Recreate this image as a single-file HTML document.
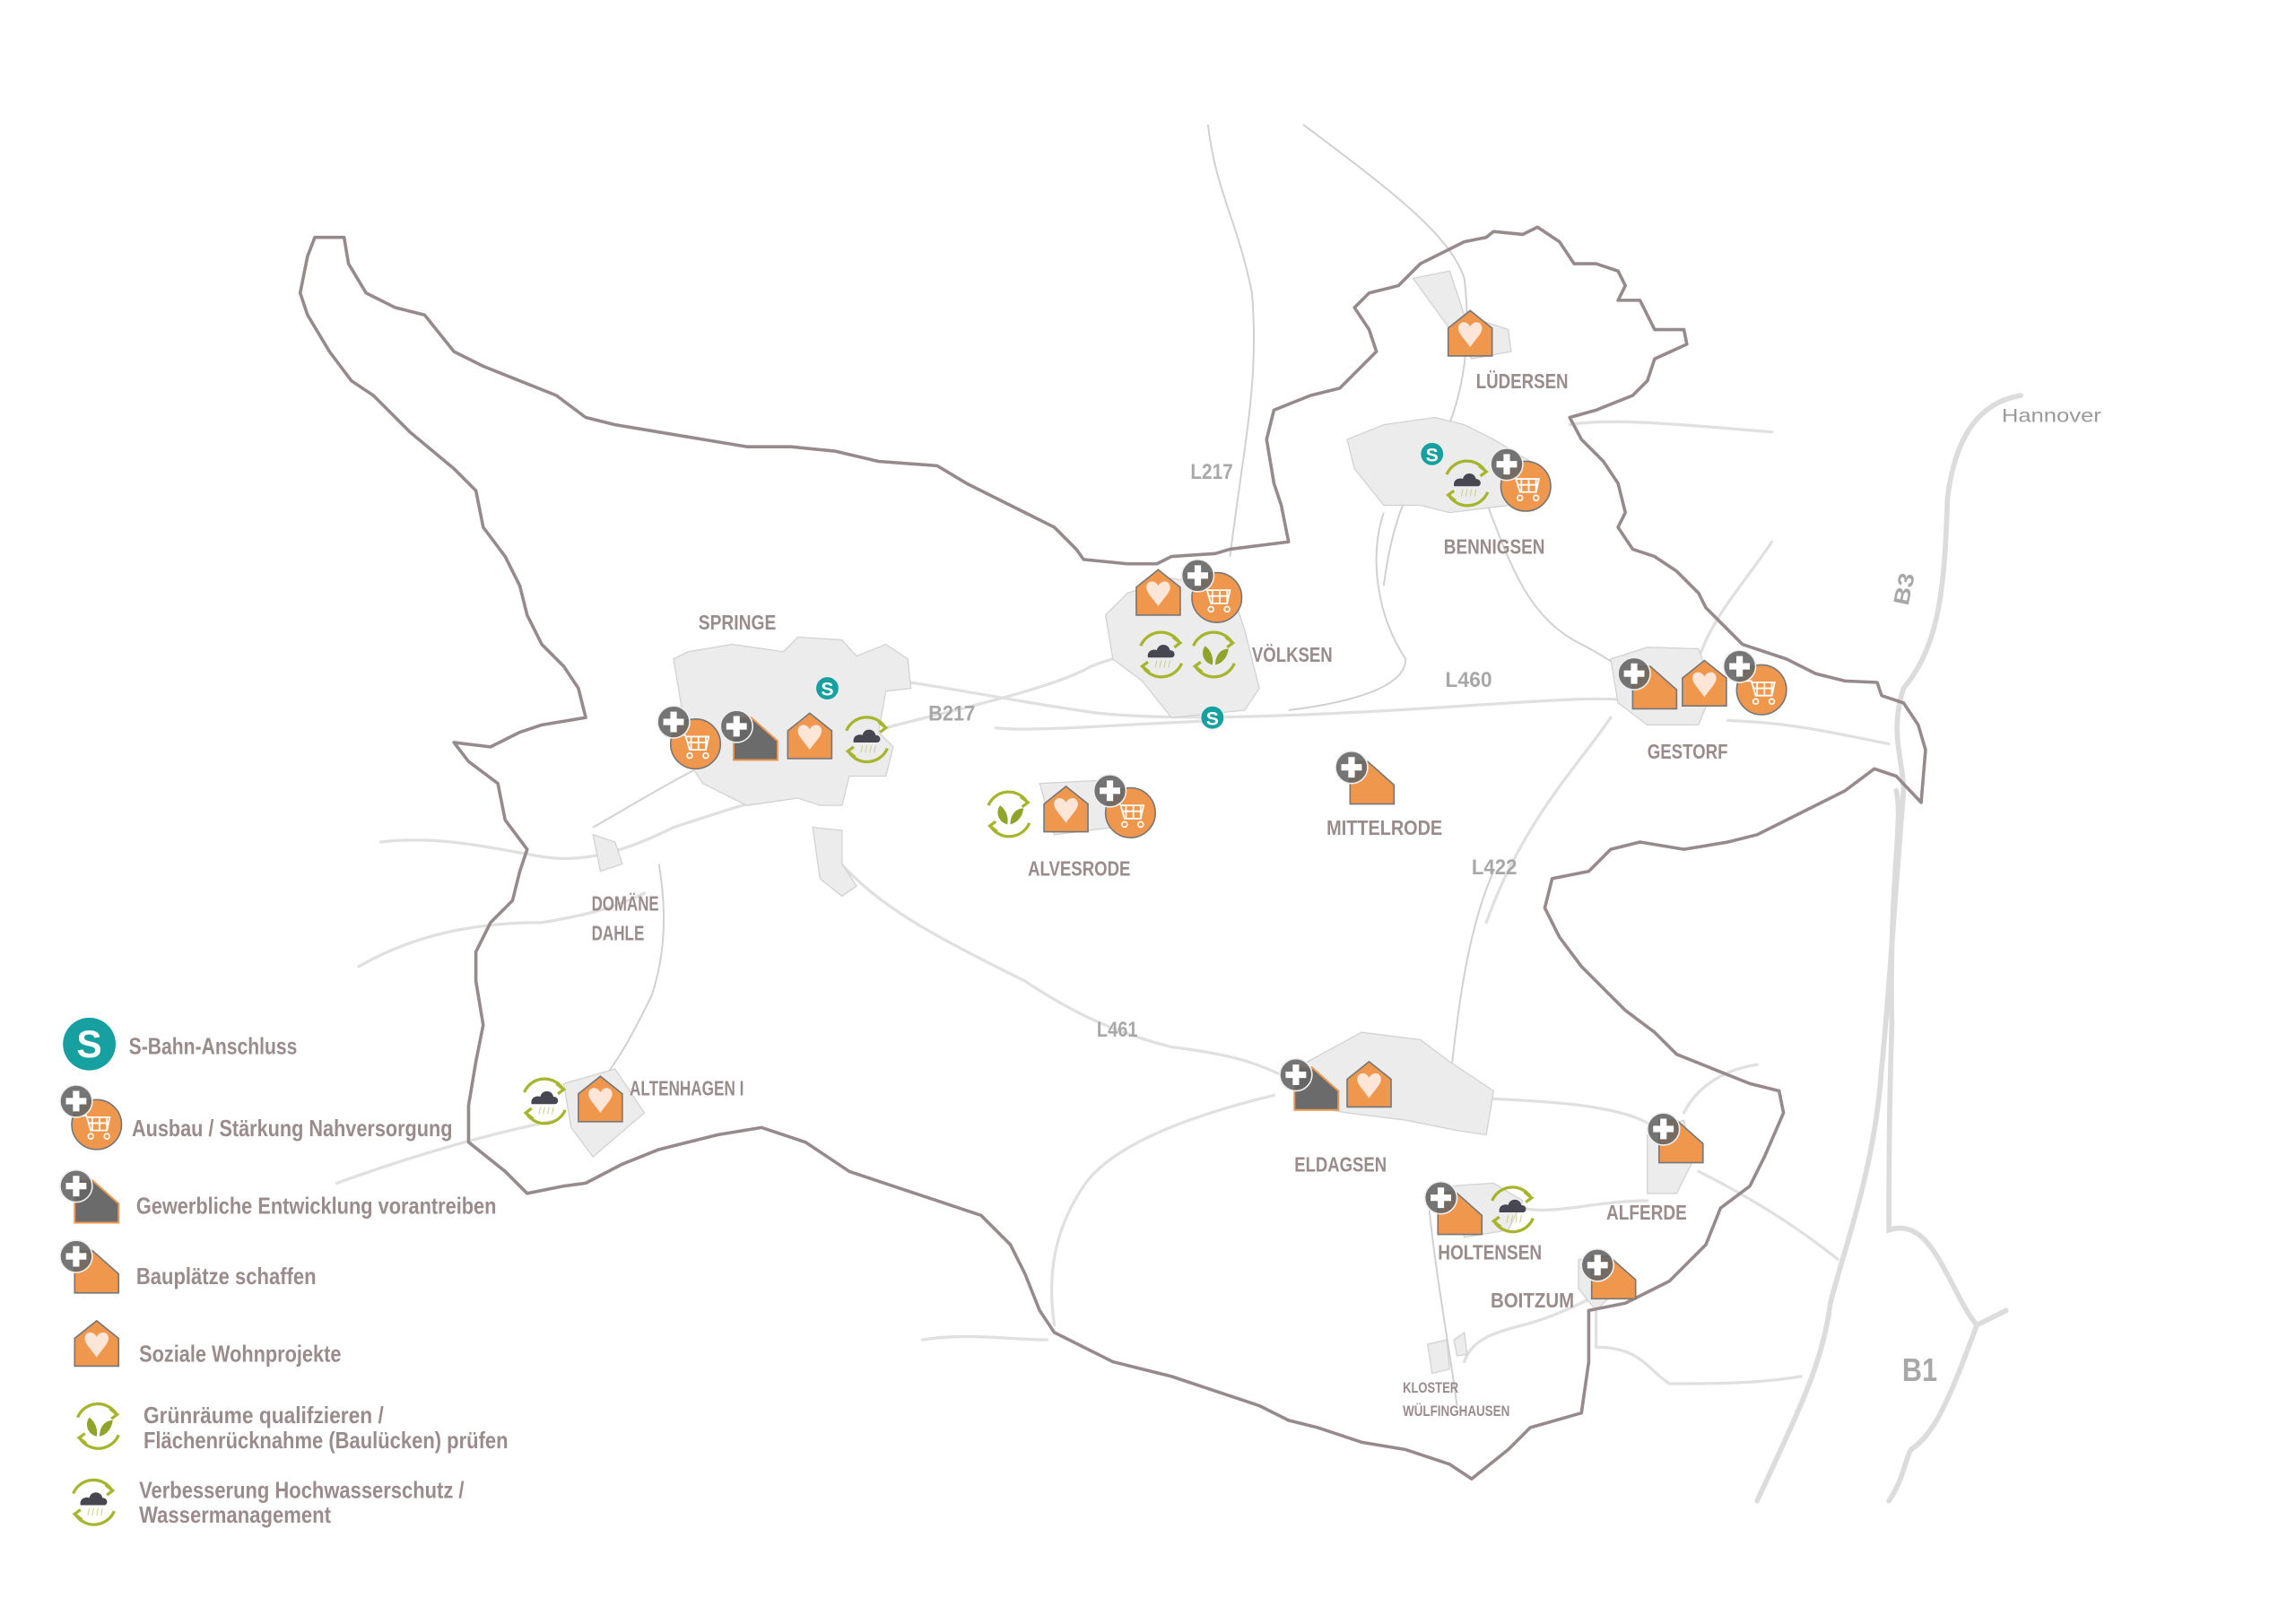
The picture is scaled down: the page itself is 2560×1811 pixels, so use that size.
<!DOCTYPE html>
<html><head><meta charset="utf-8"><style>
html,body{margin:0;padding:0;background:#fff}
svg{display:block}
.lbl{font-family:"Liberation Sans",sans-serif;font-weight:bold;fill:#9b8c8c;font-size:14px}
.leg{font-family:"Liberation Sans",sans-serif;font-weight:bold;fill:#9b8c8c;font-size:16px}
.rd{font-family:"Liberation Sans",sans-serif;font-weight:bold;fill:#a8a8a8;font-size:15px}
</style></head><body>
<svg width="2560" height="1811" viewBox="0 0 1568 1109" xmlns="http://www.w3.org/2000/svg">
<defs>
<g id="heart"><path d="M-15,15 V-4 L0,-16 L15,-4 V15 Z" fill="#F0974E" stroke="#777" stroke-width="1"/><path d="M0,9 C-4,3 -9,-1 -8,-5 C-7,-9 -2,-9 0,-5 C2,-9 7,-9 8,-5 C9,-1 4,3 0,9 Z" fill="#FDE6D8"/></g>
<g id="bau"><path d="M-15,15 V-14 L-3,-14 L15,2 V15 Z" fill="#F0974E" stroke="#777" stroke-width="1"/></g>
<g id="gew"><path d="M-15,15 V-14 L-3,-14 L15,2 V15 Z" fill="#6b6b6b" stroke="#F0974E" stroke-width="1.2"/></g>
<g id="plus"><circle r="11" fill="#666" fill-opacity="0.9" stroke="#eee" stroke-width="1"/><path d="M-2.2,-7 h4.4 v4.8 h4.8 v4.4 h-4.8 v4.8 h-4.4 v-4.8 h-4.8 v-4.4 h4.8 Z" fill="#fff"/></g>
<g id="cart"><circle r="17" fill="#F0974E" stroke="#777" stroke-width="1"/><path d="M-10,-6 h3 l3,10 h11 l2,-9 h-16 M-5,-1 h13 M-3,4 v-9 M2,4 v-9 M7,4 v-9" fill="none" stroke="#fff" stroke-width="1.1"/><circle cx="-4" cy="8" r="1.8" fill="none" stroke="#fff"/><circle cx="7" cy="8" r="1.8" fill="none" stroke="#fff"/></g>
<g id="cyc"><path d="M-14,-6 A15,15 0 0 1 12,-9" fill="none" stroke="#a6b52c" stroke-width="2"/><path d="M14,6 A15,15 0 0 1 -12,9" fill="none" stroke="#a6b52c" stroke-width="2"/><path d="M8,-12 L13,-8 L9,-5" fill="none" stroke="#a6b52c" stroke-width="2"/><path d="M-8,12 L-13,8 L-9,5" fill="none" stroke="#a6b52c" stroke-width="2"/></g>
<g id="flood"><use href="#cyc"/><path d="M-9,2 C-10,-3 -5,-4 -3,-3 C-2,-8 5,-8 6,-3 C10,-3 10,2 7,2 Z" fill="#474752"/><path d="M-3,4 l-1,5 M0,4 l-1,5 M3,4 l-1,5 M6,4 l-1,5" stroke="#c9cf80" stroke-width="0.6"/></g>
<g id="green"><use href="#cyc"/><path d="M-1,7 C-8,5 -9,-2 -6,-6 C-2,-3 0,2 -1,7 Z M1,7 C1,0 5,-4 10,-4 C9,3 5,6 1,7 Z" fill="#8fa42a"/></g>
<g id="sb"><circle r="8" fill="#16a0a0" stroke="#eee" stroke-width="0.8"/><text x="0" y="5" text-anchor="middle" font-family="Liberation Sans,sans-serif" font-weight="bold" font-size="13" fill="#fff">S</text></g>
</defs>

<g fill="none" stroke="#dcdcdc" stroke-width="3.5" stroke-linecap="round">
<path d="M1380,270 C1350,275 1335,300 1330,340 C1328,400 1325,440 1300,470 C1290,500 1300,520 1300,540 C1295,600 1290,680 1285,730 C1280,800 1260,850 1250,890 C1245,930 1230,960 1200,1025"/>
<path d="M1295,540 C1300,560 1290,600 1292,700 C1290,760 1290,800 1290,840 C1320,830 1330,880 1350,905 C1330,960 1320,980 1305,990 C1300,1000 1300,1010 1290,1025"/>
<path d="M1350,905 L1370,895"/>
</g>
<g fill="none" stroke="#e0e0e0" stroke-width="2" stroke-linecap="round">
<path d="M605,497 C650,485 720,470 745,455 C770,445 790,445 800,445"/>
<path d="M615,465 C650,470 700,480 750,487 C800,492 880,490 1000,482 C1060,478 1090,476 1110,478"/>
<path d="M680,497 C700,500 760,495 830,492"/>
<path d="M1180,492 C1220,493 1250,500 1290,508"/>
<path d="M1072,290 C1100,285 1150,290 1210,295"/>
<path d="M570,585 C600,620 640,640 700,670 C730,690 760,705 800,715 C840,720 860,725 890,742"/>
<path d="M870,748 C820,760 760,780 740,810 C720,840 715,870 720,905"/>
<path d="M1010,750 C1060,752 1110,755 1130,770"/>
<path d="M1125,820 C1090,820 1060,830 1040,825"/>
<path d="M1100,880 C1080,890 1060,900 1040,905 C1020,910 1005,915 1000,930"/>
<path d="M1090,882 L1090,920 C1120,920 1125,935 1140,945 C1170,945 1200,945 1230,940"/>
<path d="M1160,800 C1200,820 1230,840 1255,860"/>
<path d="M1150,760 C1160,740 1180,730 1200,727"/>
<path d="M630,915 C660,910 690,915 715,915"/>
<path d="M260,575 C300,570 340,580 370,585 C400,590 430,580 460,565 C490,555 520,545 550,540"/>
<path d="M245,660 C280,640 320,630 370,630 C400,625 420,620 440,610"/>
<path d="M230,808 C280,790 330,775 380,765"/>
<path d="M1015,630 C1040,560 1080,520 1100,490"/>
<path d="M1210,370 C1190,400 1170,420 1160,450"/>
</g>
<g fill="none" stroke="#d0d0d0" stroke-width="1.2">
<path d="M825,85 C830,130 845,150 855,200 C860,260 850,300 840,380"/>
<path d="M890,85 C950,130 990,160 1000,190 C1005,230 1000,270 985,300 C960,330 950,360 945,400"/>
<path d="M945,350 C935,380 940,420 960,450 C960,470 920,480 880,485"/>
<path d="M1010,330 C1030,380 1040,420 1080,440 C1100,450 1110,460 1120,460"/>
<path d="M405,565 C440,545 480,520 510,510 C550,490 580,470 615,465"/>
<path d="M450,590 C455,620 455,650 445,680 C430,710 420,730 400,750"/>
<path d="M1020,595 C1000,640 995,700 990,740"/>
<path d="M975,815 C980,870 990,920 995,960"/>
</g>

<g fill="#ececec" stroke="#d2d2d2" stroke-width="0.8">
<path d="M460,450 L470,445 L500,440 L535,445 L545,435 L575,437 L585,448 L605,440 L620,450 L622,470 L605,472 L600,500 L610,510 L605,530 L580,530 L575,550 L560,550 L545,545 L510,550 L500,545 L480,535 L470,520 L465,480 Z"/>
<path d="M555,565 L575,567 L575,590 L585,605 L575,612 L560,600 Z"/>
<path d="M405,570 L420,575 L425,590 L410,595 Z"/>
<path d="M770,405 L800,395 L840,400 L850,430 L860,470 L850,485 L800,490 L780,465 L760,450 L755,420 Z"/>
<path d="M920,300 L945,290 L980,285 L1000,290 L1020,300 L1045,315 L1030,345 L990,350 L970,345 L945,345 L925,320 Z"/>
<path d="M965,190 L990,185 L1000,215 L1030,225 L1032,240 L1005,245 Z"/>
<path d="M1100,450 L1125,442 L1160,443 L1170,470 L1160,495 L1125,495 L1105,480 Z"/>
<path d="M710,535 L750,533 L760,565 L720,570 Z"/>
<path d="M880,732 L930,705 L970,710 L990,725 L1020,745 L1015,775 L995,772 L960,765 L920,760 L890,755 Z"/>
<path d="M990,810 L1020,808 L1040,820 L1030,840 L1000,845 Z"/>
<path d="M1125,775 L1150,765 L1155,795 L1145,815 L1125,815 Z"/>
<path d="M1078,860 L1100,860 L1105,880 L1090,895 L1078,880 Z"/>
<path d="M385,740 L420,730 L440,760 L405,790 L390,770 Z"/>
<path d="M975,918 L988,915 L990,935 L978,938 Z M993,915 L1000,910 L1002,925 L995,926 Z"/>
</g>

<path fill="none" stroke="#978a8d" stroke-width="2.2" stroke-linejoin="round" d="M215,162 L235,162 L238,180 L250,200 L270,210 L290,215 L310,240 L330,250 L350,258 L380,270 L400,285 L420,290 L450,295 L480,300 L510,305 L540,305 L570,308 L600,315 L640,318 L660,330 L690,345 L720,360 L735,375 L740,382 L770,385 L790,385 L800,380 L830,378 L840,375 L880,370 L875,345 L870,330 L865,300 L870,280 L895,270 L915,265 L925,255 L940,240 L935,225 L925,210 L935,200 L955,195 L970,180 L990,170 L1000,165 L1015,162 L1020,158 L1040,160 L1050,155 L1065,165 L1075,180 L1090,180 L1105,185 L1110,195 L1105,205 L1120,205 L1130,225 L1150,225 L1152,235 L1130,245 L1125,260 L1115,270 L1090,280 L1072,285 L1080,300 L1095,315 L1105,330 L1110,350 L1105,360 L1115,375 L1130,380 L1145,390 L1160,405 L1165,415 L1175,425 L1190,440 L1220,450 L1240,460 L1260,465 L1282,466 L1285,475 L1300,480 L1310,495 L1315,512 L1312,548 L1295,530 L1280,525 L1260,540 L1240,550 L1220,560 L1200,570 L1180,575 L1150,580 L1120,575 L1100,580 L1085,595 L1060,600 L1055,620 L1065,640 L1080,660 L1095,675 L1110,690 L1130,705 L1145,720 L1170,730 L1195,740 L1215,745 L1218,760 L1205,790 L1195,810 L1175,825 L1165,850 L1140,875 L1110,890 L1085,895 L1085,930 L1080,965 L1045,975 L1030,990 L1005,1010 L990,1000 L960,990 L930,985 L900,975 L880,970 L860,960 L830,950 L800,940 L760,930 L720,910 L710,895 L700,870 L690,850 L670,830 L640,820 L610,810 L580,800 L550,780 L520,770 L490,775 L450,785 L425,795 L400,808 L385,810 L360,815 L345,800 L320,780 L320,755 L325,725 L330,700 L325,670 L325,650 L335,630 L350,615 L355,595 L360,580 L345,560 L340,535 L320,520 L310,507 L335,510 L355,500 L370,495 L400,490 L395,470 L385,455 L370,440 L360,420 L355,400 L345,380 L330,360 L325,335 L310,320 L280,295 L255,270 L240,260 L225,240 L210,215 L205,200 L210,175 Z"/>

<use href="#cart" x="475" y="508"/><use href="#plus" x="460" y="493"/>
<use href="#gew" x="516" y="504"/><use href="#plus" x="503" y="496"/>
<use href="#heart" x="553" y="503"/><use href="#flood" x="592" y="505"/><use href="#sb" x="565" y="470"/>
<use href="#heart" x="791" y="405"/><use href="#cart" x="831" y="408"/><use href="#plus" x="818" y="393"/>
<use href="#flood" x="793" y="447"/><use href="#green" x="829" y="447"/><use href="#sb" x="828" y="490"/>
<use href="#heart" x="1004" y="228"/>
<use href="#sb" x="978" y="310"/><use href="#flood" x="1002" y="330"/><use href="#cart" x="1042" y="332"/><use href="#plus" x="1029" y="317"/>
<use href="#bau" x="1130" y="469"/><use href="#plus" x="1116" y="460"/><use href="#heart" x="1164" y="467"/><use href="#cart" x="1203" y="471"/><use href="#plus" x="1188" y="455"/>
<use href="#green" x="689" y="556"/><use href="#heart" x="728" y="553"/><use href="#cart" x="772" y="555"/><use href="#plus" x="758" y="540"/>
<use href="#bau" x="937" y="534"/><use href="#plus" x="923" y="524"/>
<use href="#flood" x="372" y="752"/><use href="#heart" x="410" y="751"/>
<use href="#gew" x="899" y="743"/><use href="#plus" x="885" y="734"/><use href="#heart" x="935" y="741"/>
<use href="#bau" x="997" y="828"/><use href="#plus" x="984" y="818"/><use href="#flood" x="1033" y="826"/>
<use href="#bau" x="1148" y="779"/><use href="#plus" x="1136" y="771"/>
<use href="#bau" x="1102" y="872"/><use href="#plus" x="1091" y="864"/>

<g class="lbl">
<text x="477" y="430" textLength="53" lengthAdjust="spacingAndGlyphs">SPRINGE</text>
<text x="855" y="452" textLength="55" lengthAdjust="spacingAndGlyphs">VÖLKSEN</text>
<text x="1008" y="265" textLength="63" lengthAdjust="spacingAndGlyphs">LÜDERSEN</text>
<text x="986" y="378" textLength="69" lengthAdjust="spacingAndGlyphs">BENNIGSEN</text>
<text x="1125" y="518" textLength="55" lengthAdjust="spacingAndGlyphs">GESTORF</text>
<text x="702" y="598" textLength="70" lengthAdjust="spacingAndGlyphs">ALVESRODE</text>
<text x="906" y="570" textLength="79" lengthAdjust="spacingAndGlyphs">MITTELRODE</text>
<text x="404" y="622" textLength="46" lengthAdjust="spacingAndGlyphs">DOMÄNE</text>
<text x="404" y="642" textLength="36" lengthAdjust="spacingAndGlyphs">DAHLE</text>
<text x="430" y="748" textLength="78" lengthAdjust="spacingAndGlyphs">ALTENHAGEN I</text>
<text x="884" y="800" textLength="63" lengthAdjust="spacingAndGlyphs">ELDAGSEN</text>
<text x="982" y="860" textLength="71" lengthAdjust="spacingAndGlyphs">HOLTENSEN</text>
<text x="1097" y="833" textLength="55" lengthAdjust="spacingAndGlyphs">ALFERDE</text>
<text x="1018" y="893" textLength="57" lengthAdjust="spacingAndGlyphs">BOITZUM</text>
<text x="958" y="951" font-size="10" textLength="38" lengthAdjust="spacingAndGlyphs">KLOSTER</text>
<text x="958" y="967" font-size="10" textLength="73" lengthAdjust="spacingAndGlyphs">WÜLFINGHAUSEN</text>
</g>
<g class="rd">
<text x="813" y="327" textLength="29" lengthAdjust="spacingAndGlyphs">L217</text>
<text x="634" y="492" textLength="32" lengthAdjust="spacingAndGlyphs">B217</text>
<text x="987" y="469" textLength="32" lengthAdjust="spacingAndGlyphs">L460</text>
<text x="1005" y="597" textLength="31" lengthAdjust="spacingAndGlyphs">L422</text>
<text x="749" y="708" textLength="28" lengthAdjust="spacingAndGlyphs">L461</text>
<text transform="translate(1303,414) rotate(-78)" textLength="22" lengthAdjust="spacingAndGlyphs">B3</text>
<text x="1299" y="943" font-size="22" textLength="24" lengthAdjust="spacingAndGlyphs">B1</text>
</g>
<text x="1367" y="288" font-family="Liberation Sans,sans-serif" font-size="13" fill="#9a9a9a" textLength="68" lengthAdjust="spacingAndGlyphs">Hannover</text>

<circle cx="61" cy="713" r="18" fill="#16a0a0"/><text x="61" y="722" text-anchor="middle" font-family="Liberation Sans,sans-serif" font-weight="bold" font-size="26" fill="#fff">S</text>
<use href="#cart" x="66" y="768"/><use href="#plus" x="52" y="752"/>
<use href="#gew" x="66" y="820"/><use href="#plus" x="52" y="810"/>
<use href="#bau" x="66" y="868"/><use href="#plus" x="52" y="858"/>
<use href="#heart" x="66" y="918"/>
<use href="#green" x="67" y="974"/>
<use href="#flood" x="64" y="1026"/>
<g class="leg">
<text x="88" y="720" textLength="115" lengthAdjust="spacingAndGlyphs">S-Bahn-Anschluss</text>
<text x="90" y="776" textLength="219" lengthAdjust="spacingAndGlyphs">Ausbau / Stärkung Nahversorgung</text>
<text x="93" y="829" textLength="246" lengthAdjust="spacingAndGlyphs">Gewerbliche Entwicklung vorantreiben</text>
<text x="93" y="877" textLength="123" lengthAdjust="spacingAndGlyphs">Bauplätze schaffen</text>
<text x="95" y="930" textLength="138" lengthAdjust="spacingAndGlyphs">Soziale Wohnprojekte</text>
<text x="98" y="972" textLength="164" lengthAdjust="spacingAndGlyphs">Grünräume qualifzieren  /</text>
<text x="98" y="989" textLength="249" lengthAdjust="spacingAndGlyphs">Flächenrücknahme (Baulücken) prüfen</text>
<text x="95" y="1023" textLength="222" lengthAdjust="spacingAndGlyphs">Verbesserung Hochwasserschutz /</text>
<text x="95" y="1040" textLength="131" lengthAdjust="spacingAndGlyphs">Wassermanagement</text>
</g>
</svg>
</body></html>
